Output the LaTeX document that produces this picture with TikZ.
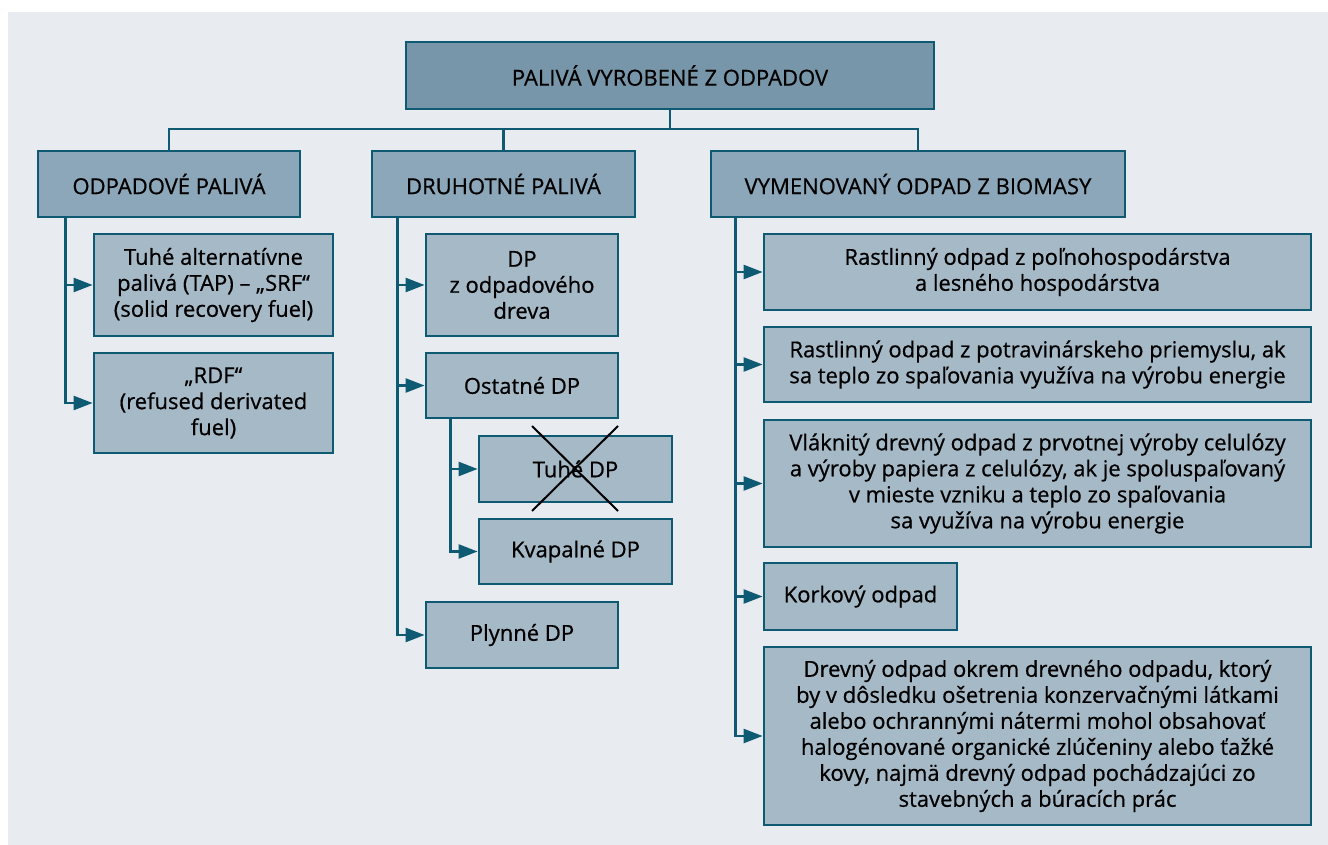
\documentclass[tikz,border=0pt]{standalone}
\usepackage{fontspec}
\setmainfont[FakeBold=0.6]{Open Sans}
\usetikzlibrary{arrows.meta, positioning, calc}
\definecolor{Teal}{HTML}{0D5A72}
\definecolor{Panel}{HTML}{E8EBF0}
\definecolor{TopFill}{HTML}{7896A9}
\definecolor{MidFill}{HTML}{8CA7B9}
\definecolor{LeafFill}{HTML}{A6B9C7}

\begin{document}
\begin{tikzpicture}[
    x=0.5pt, y=-0.5pt,
    box/.style={
        draw=Teal, line width=1.4pt, align=center, inner sep=2pt,
        font=\fontsize{11}{13}\selectfont
    },
    head/.style={box, fill=MidFill, minimum height=33pt},
    leaf/.style={box, fill=LeafFill},
    line/.style={draw=Teal, line width=1.2pt},
    arr/.style={line, -{Triangle[length=9.5pt, width=7pt]}}
]

% =============================================
% Frame
% =============================================
\useasboundingbox (0,0) rectangle (1328,845);
\fill[Panel] (8,12) rectangle (1328,845);

% =============================================
% ROOT
% =============================================
\node[box, fill=TopFill, minimum width=264pt, minimum height=33.5pt] (root) at (670,75.5) {PALIVÁ VYROBENÉ Z ODPADOV};

% =============================================
% ROW 2: the three groups
% =============================================
\node[head, minimum width=131pt] (waste) at (169,184) {ODPADOVÉ PALIVÁ};
\node[head, minimum width=131.5pt] (sec) at (503.5,184) {DRUHOTNÉ PALIVÁ};
\node[head, minimum width=207pt] (bio) at (918,184) {VYMENOVANÝ ODPAD Z BIOMASY};

\coordinate (bus) at (670,129);
\draw[line] (root.south) -- (bus);
\draw[line] (waste.north) |- (bus) -| (bio.north);
\draw[line] (sec.north) -- (sec.north |- bus);

% =============================================
% Waste fuels
% =============================================
\node[leaf, minimum width=119.5pt, minimum height=51pt] (srf) at (213.5,285)
    {Tuhé alternatívne\\palivá (TAP) – „SRF“\\(solid recovery fuel)};
\node[leaf, minimum width=119.5pt, minimum height=50pt] (rdf) at (213.5,403)
    {„RDF“\\(refused derivated\\fuel)};

\draw[arr] ([xshift=14.5pt]waste.south west) |- (srf.west);
\draw[arr] ([xshift=14.5pt]waste.south west) |- (rdf.west);

% =============================================
% Secondary fuels
% =============================================
\node[leaf, minimum width=96pt, minimum height=51pt] (wood) at (522,285)
    {DP\\z odpadového\\dreva};
\node[leaf, minimum width=96pt, minimum height=32.5pt] (other) at (522,385.5) {Ostatné DP};
\node[leaf, minimum width=96.5pt, minimum height=33pt] (solid) at (575.5,469) {Tuhé DP};
\node[leaf, minimum width=96.5pt, minimum height=32.5pt] (liquid) at (575.5,551.5) {Kvapalné DP};
\node[leaf, minimum width=96pt, minimum height=33pt] (gas) at (522,635) {Plynné DP};

\draw[arr] ([xshift=13.5pt]sec.south west) |- (wood.west);
\draw[arr] ([xshift=13.5pt]sec.south west) |- (other.west);
\draw[arr] ([xshift=13.5pt]sec.south west) |- (gas.west);
\draw[arr] ([xshift=13pt]other.south west) |- (solid.west);
\draw[arr] ([xshift=13pt]other.south west) |- (liquid.west);

% crossed out
\draw[black, line width=1pt] (532,426) -- (618,511) (618,426) -- (532,511);

% =============================================
% Biomass waste
% =============================================
\node[leaf, minimum width=273.5pt, minimum height=38pt] (plant) at (1037.5,272)
    {Rastlinný odpad z poľnohospodárstva\\a lesného hospodárstva};
\node[leaf, minimum width=273.5pt, minimum height=37.5pt] (food) at (1037.5,364.5)
    {Rastlinný odpad z potravinárskeho priemyslu, ak\\sa teplo zo spaľovania využíva na výrobu energie};
\node[leaf, minimum width=273.5pt, minimum height=63.5pt] (fibre) at (1037.5,483.5)
    {Vláknitý drevný odpad z prvotnej výroby celulózy\\a výroby papiera z celulózy, ak je spoluspaľovaný\\v mieste vzniku a teplo zo spaľovania\\sa využíva na výrobu energie};
\node[leaf, minimum width=96.5pt, minimum height=33.5pt] (cork) at (860.5,596.5) {Korkový odpad};
\node[leaf, minimum width=273.5pt, minimum height=89pt] (timber) at (1037.5,736)
    {Drevný odpad okrem drevného odpadu, ktorý\\by v dôsledku ošetrenia konzervačnými látkami\\alebo ochrannými nátermi mohol obsahovať\\halogénované organické zlúčeniny alebo ťažké\\kovy, najmä drevný odpad pochádzajúci zo\\stavebných a búracích prác};

\foreach \leafname in {plant, food, fibre, cork, timber}
    \draw[arr] ([xshift=13pt]bio.south west) |- (\leafname.west);

\end{tikzpicture}
\end{document}
